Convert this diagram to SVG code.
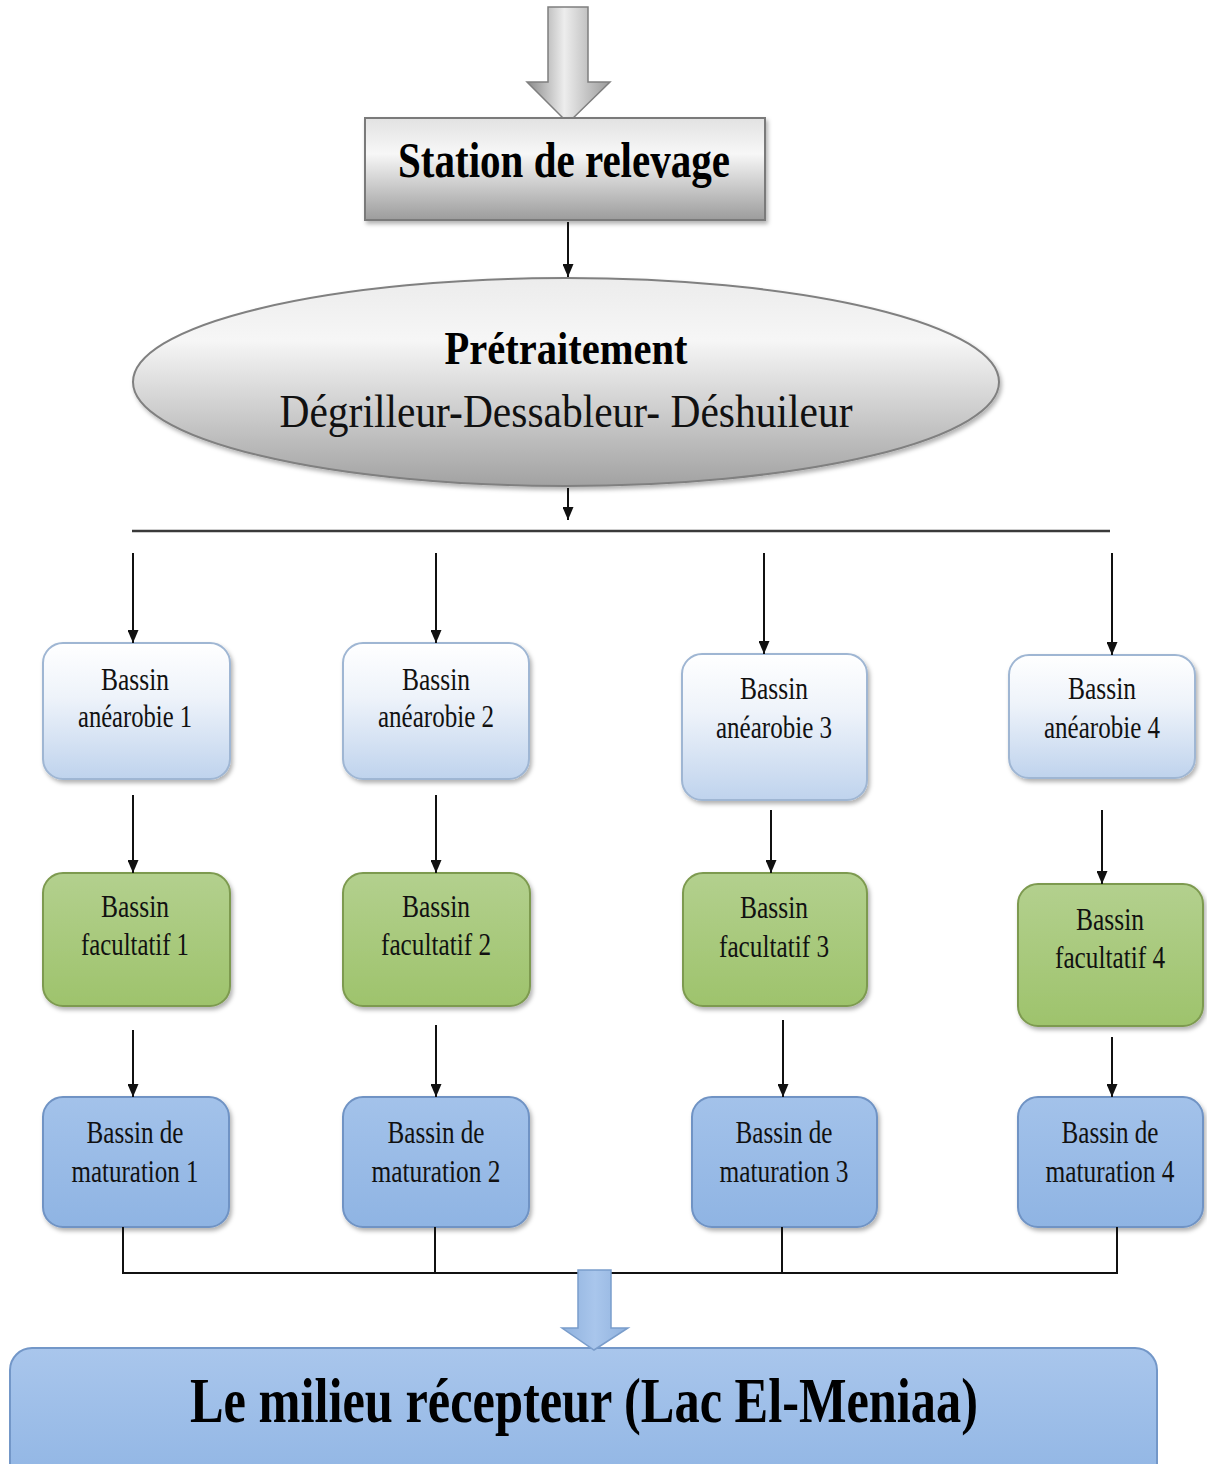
<svg xmlns="http://www.w3.org/2000/svg" width="1207" height="1464" viewBox="0 0 1207 1464">
<style>
.lbl{font-family:"Liberation Serif","Times New Roman",serif;font-size:32px;fill:#111;text-anchor:middle}
.big{font-family:"Liberation Serif","Times New Roman",serif;font-weight:bold;fill:#000;text-anchor:middle}
.conn{stroke:#111;stroke-width:2;fill:none}
.b1{fill:url(#gA);stroke:#9fb6d3;stroke-width:2}
.b2{fill:url(#gF);stroke:#7d9a50;stroke-width:2}
.b3{fill:url(#gM);stroke:#6f93c4;stroke-width:2}
</style>
<defs>
<marker id="ah" markerUnits="userSpaceOnUse" markerWidth="13" markerHeight="11" viewBox="0 0 13 11" refX="13" refY="5.5" orient="auto">
<path d="M0,0 L13,5.5 L0,11 z" fill="#111"/>
</marker>
<linearGradient id="gGray" x1="0" y1="0" x2="0" y2="1">
<stop offset="0" stop-color="#e2e2e2"/><stop offset="0.35" stop-color="#f7f7f7"/><stop offset="1" stop-color="#9c9c9c"/>
</linearGradient>
<linearGradient id="gEll" x1="0" y1="0" x2="0" y2="1">
<stop offset="0" stop-color="#ececec"/><stop offset="0.3" stop-color="#f6f6f6"/><stop offset="1" stop-color="#a2a2a2"/>
</linearGradient>
<linearGradient id="gArr" x1="0" y1="0" x2="1" y2="0">
<stop offset="0" stop-color="#8a8a8a"/><stop offset="0.45" stop-color="#ededed"/><stop offset="1" stop-color="#9a9a9a"/>
</linearGradient>
<linearGradient id="gA" x1="0" y1="0" x2="0" y2="1">
<stop offset="0" stop-color="#ffffff"/><stop offset="0.4" stop-color="#eef3fa"/><stop offset="1" stop-color="#bfd3ed"/>
</linearGradient>
<linearGradient id="gF" x1="0" y1="0" x2="0" y2="1">
<stop offset="0" stop-color="#b3d08e"/><stop offset="1" stop-color="#9ec36c"/>
</linearGradient>
<linearGradient id="gM" x1="0" y1="0" x2="0" y2="1">
<stop offset="0" stop-color="#a3c2ea"/><stop offset="1" stop-color="#8fb4e3"/>
</linearGradient>
<linearGradient id="gBot" x1="0" y1="0" x2="0" y2="1">
<stop offset="0" stop-color="#a9c6ec"/><stop offset="1" stop-color="#90b5e4"/>
</linearGradient>
<linearGradient id="gBA" x1="0" y1="0" x2="1" y2="0">
<stop offset="0" stop-color="#8fb1dd"/><stop offset="0.5" stop-color="#a9c6ec"/><stop offset="1" stop-color="#8fb1dd"/>
</linearGradient>
<filter id="sh" x="-10%" y="-10%" width="120%" height="130%">
<feDropShadow dx="2" dy="3" stdDeviation="2" flood-color="#000" flood-opacity="0.3"/>
</filter>
</defs>

<g id="inflow">
<polygon points="548,7 588,7 588,82 610,82 568,123 527,82 548,82" fill="url(#gArr)" stroke="#7f7f7f" stroke-width="1.5"/>
</g>

<g id="station">
<rect x="365" y="118" width="400" height="102" fill="url(#gGray)" stroke="#7a7a7a" stroke-width="2" filter="url(#sh)"/>
<text class="big" x="564" y="177" font-size="51" textLength="332" lengthAdjust="spacingAndGlyphs">Station de relevage</text>
</g>

<g id="pretraitement">
<ellipse cx="566" cy="382" rx="433" ry="104" fill="url(#gEll)" stroke="#808080" stroke-width="2" filter="url(#sh)"/>
<text class="big" x="566" y="364" font-size="46" textLength="243" lengthAdjust="spacingAndGlyphs">Prétraitement</text>
<text x="566" y="427" font-family="Liberation Serif, Times New Roman, serif" font-size="46" fill="#111" text-anchor="middle" textLength="573" lengthAdjust="spacingAndGlyphs">Dégrilleur-Dessableur- Déshuileur</text>
</g>

<g id="anaerobie1"><rect class="b1" x="43" y="643" width="187" height="136" rx="20" filter="url(#sh)"/>
<text class="lbl" x="135" y="690" textLength="68" lengthAdjust="spacingAndGlyphs">Bassin</text>
<text class="lbl" x="135" y="727" textLength="114" lengthAdjust="spacingAndGlyphs">anéarobie 1</text></g>
<g id="anaerobie2"><rect class="b1" x="343" y="643" width="186" height="136" rx="20" filter="url(#sh)"/>
<text class="lbl" x="436" y="690" textLength="68" lengthAdjust="spacingAndGlyphs">Bassin</text>
<text class="lbl" x="436" y="727" textLength="116" lengthAdjust="spacingAndGlyphs">anéarobie 2</text></g>
<g id="anaerobie3"><rect class="b1" x="682" y="654" width="185" height="146" rx="20" filter="url(#sh)"/>
<text class="lbl" x="774" y="699" textLength="68" lengthAdjust="spacingAndGlyphs">Bassin</text>
<text class="lbl" x="774" y="738" textLength="116" lengthAdjust="spacingAndGlyphs">anéarobie 3</text></g>
<g id="anaerobie4"><rect class="b1" x="1009" y="655" width="186" height="123" rx="20" filter="url(#sh)"/>
<text class="lbl" x="1102" y="699" textLength="68" lengthAdjust="spacingAndGlyphs">Bassin</text>
<text class="lbl" x="1102" y="738" textLength="116" lengthAdjust="spacingAndGlyphs">anéarobie 4</text></g>

<g id="facultatif1"><rect class="b2" x="43" y="873" width="187" height="133" rx="20" filter="url(#sh)"/>
<text class="lbl" x="135" y="917" textLength="68" lengthAdjust="spacingAndGlyphs">Bassin</text>
<text class="lbl" x="135" y="955" textLength="108" lengthAdjust="spacingAndGlyphs">facultatif 1</text></g>
<g id="facultatif2"><rect class="b2" x="343" y="873" width="187" height="133" rx="20" filter="url(#sh)"/>
<text class="lbl" x="436" y="917" textLength="68" lengthAdjust="spacingAndGlyphs">Bassin</text>
<text class="lbl" x="436" y="955" textLength="110" lengthAdjust="spacingAndGlyphs">facultatif 2</text></g>
<g id="facultatif3"><rect class="b2" x="683" y="873" width="184" height="133" rx="20" filter="url(#sh)"/>
<text class="lbl" x="774" y="918" textLength="68" lengthAdjust="spacingAndGlyphs">Bassin</text>
<text class="lbl" x="774" y="957" textLength="110" lengthAdjust="spacingAndGlyphs">facultatif 3</text></g>
<g id="facultatif4"><rect class="b2" x="1018" y="884" width="185" height="142" rx="20" filter="url(#sh)"/>
<text class="lbl" x="1110" y="930" textLength="68" lengthAdjust="spacingAndGlyphs">Bassin</text>
<text class="lbl" x="1110" y="968" textLength="110" lengthAdjust="spacingAndGlyphs">facultatif 4</text></g>

<g id="maturation1"><rect class="b3" x="43" y="1097" width="186" height="130" rx="20" filter="url(#sh)"/>
<text class="lbl" x="135" y="1143" textLength="97" lengthAdjust="spacingAndGlyphs">Bassin de</text>
<text class="lbl" x="135" y="1182" textLength="127" lengthAdjust="spacingAndGlyphs">maturation 1</text></g>
<g id="maturation2"><rect class="b3" x="343" y="1097" width="186" height="130" rx="20" filter="url(#sh)"/>
<text class="lbl" x="436" y="1143" textLength="97" lengthAdjust="spacingAndGlyphs">Bassin de</text>
<text class="lbl" x="436" y="1182" textLength="129" lengthAdjust="spacingAndGlyphs">maturation 2</text></g>
<g id="maturation3"><rect class="b3" x="692" y="1097" width="185" height="130" rx="20" filter="url(#sh)"/>
<text class="lbl" x="784" y="1143" textLength="97" lengthAdjust="spacingAndGlyphs">Bassin de</text>
<text class="lbl" x="784" y="1182" textLength="129" lengthAdjust="spacingAndGlyphs">maturation 3</text></g>
<g id="maturation4"><rect class="b3" x="1018" y="1097" width="185" height="130" rx="20" filter="url(#sh)"/>
<text class="lbl" x="1110" y="1143" textLength="97" lengthAdjust="spacingAndGlyphs">Bassin de</text>
<text class="lbl" x="1110" y="1182" textLength="129" lengthAdjust="spacingAndGlyphs">maturation 4</text></g>

<g id="recepteur">
<rect x="10" y="1348" width="1147" height="140" rx="22" fill="url(#gBot)" stroke="#7397c8" stroke-width="2"/>
<text class="big" x="584" y="1422" font-size="64" textLength="788" lengthAdjust="spacingAndGlyphs">Le milieu récepteur (Lac El-Meniaa)</text>
</g>

<g id="connectors">
<line class="conn" x1="568" y1="222" x2="568" y2="277" marker-end="url(#ah)"/>
<line class="conn" x1="568" y1="488" x2="568" y2="520" marker-end="url(#ah)"/>
<line x1="132" y1="531" x2="1110" y2="531" stroke="#3a3a3a" stroke-width="2.5"/>
<line class="conn" x1="133" y1="553" x2="133" y2="643" marker-end="url(#ah)"/>
<line class="conn" x1="436" y1="553" x2="436" y2="643" marker-end="url(#ah)"/>
<line class="conn" x1="764" y1="553" x2="764" y2="654" marker-end="url(#ah)"/>
<line class="conn" x1="1112" y1="553" x2="1112" y2="655" marker-end="url(#ah)"/>
<line class="conn" x1="133" y1="795" x2="133" y2="873" marker-end="url(#ah)"/>
<line class="conn" x1="436" y1="795" x2="436" y2="873" marker-end="url(#ah)"/>
<line class="conn" x1="771" y1="810" x2="771" y2="873" marker-end="url(#ah)"/>
<line class="conn" x1="1102" y1="810" x2="1102" y2="884" marker-end="url(#ah)"/>
<line class="conn" x1="133" y1="1030" x2="133" y2="1097" marker-end="url(#ah)"/>
<line class="conn" x1="436" y1="1025" x2="436" y2="1097" marker-end="url(#ah)"/>
<line class="conn" x1="783" y1="1020" x2="783" y2="1097" marker-end="url(#ah)"/>
<line class="conn" x1="1112" y1="1037" x2="1112" y2="1097" marker-end="url(#ah)"/>
<polyline class="conn" points="123,1227 123,1273 1117,1273 1117,1227"/>
<line class="conn" x1="435" y1="1227" x2="435" y2="1273"/>
<line class="conn" x1="782" y1="1227" x2="782" y2="1273"/>
<polygon points="578,1270 611,1270 611,1328 628,1328 594,1350 562,1328 578,1328" fill="url(#gBA)" stroke="#7a9dcb" stroke-width="1.5"/>
</g>
</svg>
